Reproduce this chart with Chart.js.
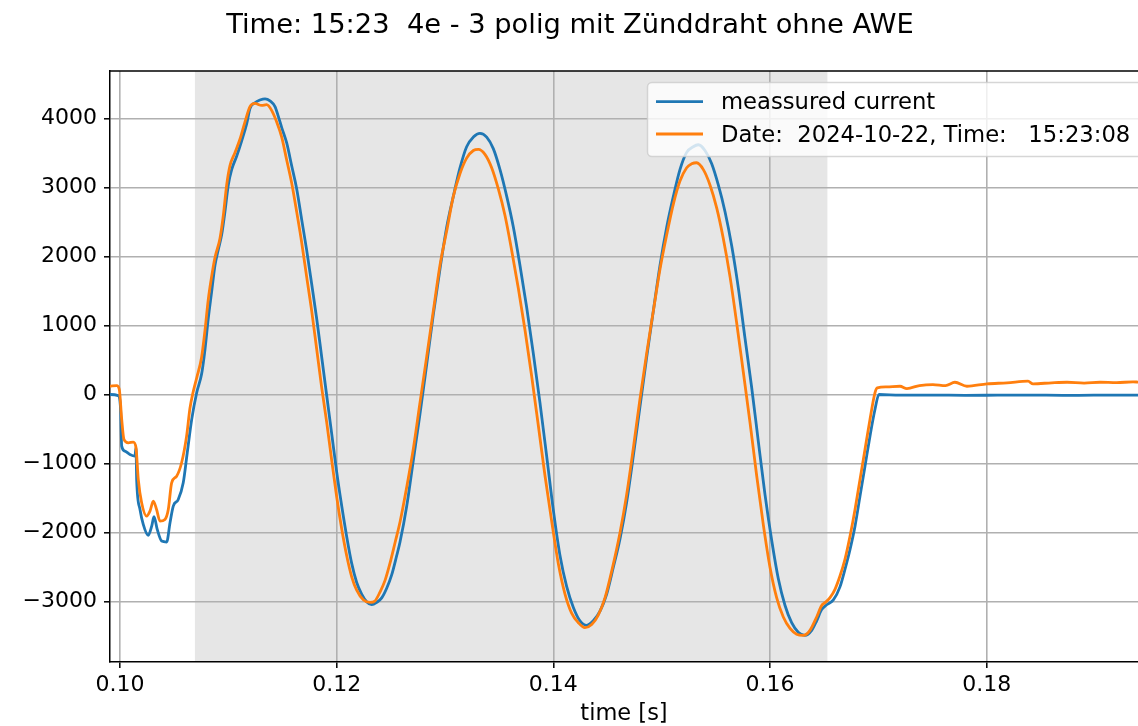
<!DOCTYPE html>
<html><head><meta charset="utf-8">
<script src="https://cdn.jsdelivr.net/npm/chart.js@4.4.1/dist/chart.umd.min.js"></script>
<style>html,body{margin:0;padding:0;background:#fff}#wrap{width:1138px;height:726px;position:relative}</style>
</head><body><div id="wrap"><canvas id="c"></canvas></div>
<script>
const titleText = 'Time: 15:23  4e - 3 polig mit Zünddraht ohne AWE';
const xAxisTitle = 'time [s]';
const seriesLabels = ['meassured current', 'Date:  2024-10-22, Time:   15:23:08'];
const xTicks = [0.10, 0.12, 0.14, 0.16, 0.18];
const yTicks = [-3000, -2000, -1000, 0, 1000, 2000, 3000, 4000];
const shadedSpan = [0.10692, 0.16530];

const timeMeasured = [0.09908,0.09984,0.10006,0.10016,0.10046,0.10092,0.10138,0.10148,0.10154,0.10185,0.10215,0.10261,0.10293,0.10314,0.10344,0.10385,0.10431,0.10462,0.10492,0.10538,0.10584,0.10621,0.10662,0.10708,0.10754,0.10785,0.10815,0.10846,0.10877,0.10907,0.10939,0.10969,0.11000,0.11031,0.11077,0.11123,0.11170,0.11200,0.11246,0.11292,0.11339,0.11385,0.11431,0.11461,0.11493,0.11539,0.11585,0.11631,0.11677,0.11723,0.11770,0.11816,0.11862,0.11908,0.11954,0.12000,0.12047,0.12093,0.12139,0.12185,0.12231,0.12277,0.12323,0.12370,0.12416,0.12462,0.12508,0.12554,0.12585,0.12647,0.12708,0.12769,0.12831,0.12892,0.12954,0.13016,0.13077,0.13139,0.13200,0.13262,0.13323,0.13385,0.13446,0.13508,0.13570,0.13631,0.13692,0.13754,0.13815,0.13877,0.13939,0.14000,0.14062,0.14123,0.14185,0.14246,0.14308,0.14369,0.14431,0.14493,0.14554,0.14616,0.14677,0.14738,0.14800,0.14862,0.14923,0.14985,0.15047,0.15108,0.15169,0.15231,0.15292,0.15338,0.15400,0.15462,0.15523,0.15585,0.15647,0.15708,0.15769,0.15831,0.15892,0.15954,0.16016,0.16077,0.16139,0.16200,0.16261,0.16323,0.16385,0.16431,0.16477,0.16523,0.16585,0.16646,0.16692,0.16739,0.16785,0.16831,0.16877,0.16923,0.16969,0.17006,0.1720,0.1750,0.1780,0.1810,0.1840,0.1870,0.1900,0.1940];
const currentMeasured = [0,-15,-217,-749,-821,-870,-894,-768,-1232,-1667,-1884,-2043,-1909,-1773,-1957,-2126,-2140,-1860,-1618,-1522,-1280,-845,-362,25,300,656,1100,1488,1876,2098,2320,2652,3040,3262,3457,3678,3928,4150,4233,4272,4290,4261,4177,4039,3872,3650,3318,2985,2541,2098,1599,1100,545,-10,-564,-1119,-1618,-2062,-2450,-2727,-2894,-3005,-3049,-3016,-2950,-2810,-2616,-2339,-2140,-1618,-953,-287,434,1155,1820,2430,2874,3290,3595,3734,3789,3734,3567,3262,2874,2430,1876,1266,600,-121,-897,-1674,-2339,-2783,-3088,-3282,-3348,-3282,-3143,-2894,-2505,-2090,-1563,-897,-176,545,1210,1876,2430,2874,3262,3512,3595,3623,3540,3346,3040,2652,2153,1543,822,101,-675,-1452,-2117,-2672,-3060,-3310,-3448,-3493,-3421,-3282,-3120,-3050,-2980,-2790,-2536,-2246,-1909,-1474,-1039,-604,-217,0,-10,-8,-12,-10,-8,-12,-10,-10];

const timeDate = [0.09908,0.09970,0.09994,0.10016,0.10037,0.10077,0.10123,0.10148,0.10169,0.10200,0.10246,0.10277,0.10308,0.10338,0.10369,0.10415,0.10446,0.10477,0.10523,0.10569,0.10615,0.10646,0.10677,0.10708,0.10754,0.10785,0.10815,0.10846,0.10877,0.10923,0.10954,0.10985,0.11015,0.11062,0.11108,0.11154,0.11200,0.11246,0.11308,0.11354,0.11400,0.11446,0.11493,0.11539,0.11585,0.11631,0.11677,0.11723,0.11770,0.11816,0.11862,0.11908,0.11954,0.12000,0.12047,0.12093,0.12139,0.12185,0.12246,0.12308,0.12354,0.12400,0.12446,0.12492,0.12539,0.12585,0.12647,0.12708,0.12769,0.12831,0.12892,0.12954,0.13016,0.13077,0.13139,0.13200,0.13262,0.13308,0.13369,0.13431,0.13492,0.13554,0.13615,0.13677,0.13739,0.13800,0.13862,0.13923,0.13985,0.14046,0.14108,0.14169,0.14231,0.14292,0.14354,0.14415,0.14477,0.14539,0.14616,0.14677,0.14738,0.14800,0.14862,0.14923,0.14985,0.15047,0.15108,0.15169,0.15231,0.15277,0.15323,0.15385,0.15446,0.15508,0.15569,0.15631,0.15692,0.15754,0.15815,0.15877,0.15939,0.16000,0.16062,0.16123,0.16185,0.16246,0.16308,0.16369,0.16431,0.16477,0.16508,0.16554,0.16600,0.16646,0.16692,0.16739,0.16785,0.16831,0.16877,0.16923,0.16969,0.16991,0.17077,0.17200,0.17264,0.17380,0.17504,0.17620,0.17707,0.17818,0.18003,0.18188,0.18382,0.18428,0.18600,0.18742,0.18900,0.19046,0.19200,0.19351,0.19400];
const currentDate = [120,130,72,-362,-652,-700,-691,-773,-1232,-1570,-1763,-1691,-1546,-1667,-1836,-1812,-1667,-1280,-1184,-990,-604,-200,46,240,545,933,1377,1710,1987,2264,2597,3040,3318,3512,3706,3956,4177,4222,4194,4205,4122,3956,3734,3401,3068,2652,2209,1710,1210,656,101,-400,-950,-1480,-1951,-2339,-2644,-2838,-2977,-3016,-2994,-2866,-2700,-2450,-2150,-1850,-1341,-786,-121,545,1210,1876,2375,2874,3207,3429,3540,3556,3484,3290,2985,2597,2098,1543,933,268,-453,-1174,-1840,-2450,-2894,-3171,-3310,-3382,-3337,-3199,-2950,-2561,-2000,-1452,-786,-65,600,1210,1820,2320,2763,3096,3290,3346,3362,3262,3040,2708,2264,1710,1044,323,-398,-1174,-1895,-2505,-2950,-3227,-3393,-3476,-3493,-3421,-3227,-3060,-3019,-2947,-2826,-2633,-2391,-2053,-1667,-1232,-797,-362,25,97,111,120,87,130,145,130,178,120,155,169,193,155,170,178,165,178,172,184,180];

const FONT = '"DejaVu Sans", "Liberation Sans", sans-serif';
const BLUE = '#1f77b4', ORANGE = '#ff7f0e';

function fmtY(v){ return v < 0 ? '\u2212' + Math.abs(v) : String(v); }

const deco = {
  id: 'deco',
  beforeDraw(chart){
    const {ctx, chartArea: a, scales: {x}} = chart;
    const x0 = x.getPixelForValue(shadedSpan[0]), x1 = x.getPixelForValue(shadedSpan[1]);
    ctx.save();
    ctx.fillStyle = 'rgba(128,128,128,0.2)';
    ctx.fillRect(x0, a.top, x1 - x0, a.bottom - a.top);
    ctx.restore();
  },
  afterDraw(chart){
    const {ctx, chartArea: a} = chart;
    ctx.save();
    ctx.strokeStyle = '#000'; ctx.lineWidth = 1.5;
    ctx.beginPath(); ctx.moveTo(a.left - 0.75, a.top); ctx.lineTo(a.right, a.top); ctx.stroke();
    ctx.fillStyle = '#000';
    ctx.font = '27.3px ' + FONT; ctx.textAlign = 'center'; ctx.textBaseline = 'alphabetic';
    ctx.fillText(titleText, 570, 33);
    ctx.font = '22.5px ' + FONT;
    ctx.fillText(xAxisTitle, (a.left + a.right) / 2, 720);
    const bx = 647.5, by = 82.5, bw = 520, bh = 74, r = 4.5;
    ctx.beginPath();
    ctx.moveTo(bx + r, by); ctx.lineTo(bx + bw - r, by); ctx.arcTo(bx + bw, by, bx + bw, by + r, r);
    ctx.lineTo(bx + bw, by + bh - r); ctx.arcTo(bx + bw, by + bh, bx + bw - r, by + bh, r);
    ctx.lineTo(bx + r, by + bh); ctx.arcTo(bx, by + bh, bx, by + bh - r, r);
    ctx.lineTo(bx, by + r); ctx.arcTo(bx, by, bx + r, by, r); ctx.closePath();
    ctx.fillStyle = 'rgba(255,255,255,0.8)'; ctx.fill();
    ctx.strokeStyle = 'rgba(204,204,204,0.8)'; ctx.lineWidth = 1.5; ctx.stroke();
    const rows = [[BLUE, 101.7, 109.3], [ORANGE, 134, 142.3]];
    rows.forEach((row, i) => {
      ctx.strokeStyle = row[0]; ctx.lineWidth = 2.8;
      ctx.beginPath(); ctx.moveTo(656, row[1]); ctx.lineTo(703, row[1]); ctx.stroke();
      ctx.fillStyle = '#000'; ctx.textAlign = 'left'; ctx.font = '22.7px ' + FONT;
      ctx.fillText(seriesLabels[i], 721, row[2]);
    });
    ctx.restore();
  }
};

new Chart(document.getElementById('c'), {
  type: 'line',
  data: {
    datasets: [
      { label: seriesLabels[0], data: timeMeasured.map((t, i) => ({x: t, y: currentMeasured[i]})),
        borderColor: BLUE, borderWidth: 2.8, pointRadius: 0, cubicInterpolationMode: 'monotone', order: 2 },
      { label: seriesLabels[1], data: timeDate.map((t, i) => ({x: t, y: currentDate[i]})),
        borderColor: ORANGE, borderWidth: 2.8, pointRadius: 0, cubicInterpolationMode: 'monotone', order: 1 }
    ]
  },
  options: {
    responsive: true, maintainAspectRatio: false, animation: false,
    layout: { padding: { top: 71, left: 0, right: 0, bottom: 0 } },
    plugins: { legend: { display: false }, title: { display: false }, tooltip: { enabled: false } },
    scales: {
      x: {
        type: 'linear', min: 0.09908, max: 0.19397,
        afterFit(s){ s.height = 64; },
        afterBuildTicks(s){ s.ticks = xTicks.map(v => ({value: v})); },
        ticks: { font: { family: FONT, size: 22 }, color: '#000', padding: 4, maxRotation: 0,
                 callback: v => v.toFixed(2) },
        grid: { color: '#b0b0b0', lineWidth: 1.6, tickColor: '#000', tickLength: 6, tickWidth: 1.5 },
        border: { color: '#000', width: 1.5 }
      },
      y: {
        type: 'linear', min: -3880, max: 4693,
        afterFit(s){ s.width = 110; },
        afterBuildTicks(s){ s.ticks = yTicks.map(v => ({value: v})); },
        ticks: { font: { family: FONT, size: 22 }, color: '#000', padding: 7, callback: v => fmtY(v) },
        grid: { color: '#b0b0b0', lineWidth: 1.6, tickColor: '#000', tickLength: 6, tickWidth: 1.5 },
        border: { color: '#000', width: 1.5 }
      }
    }
  },
  plugins: [deco]
});
</script></body></html>
